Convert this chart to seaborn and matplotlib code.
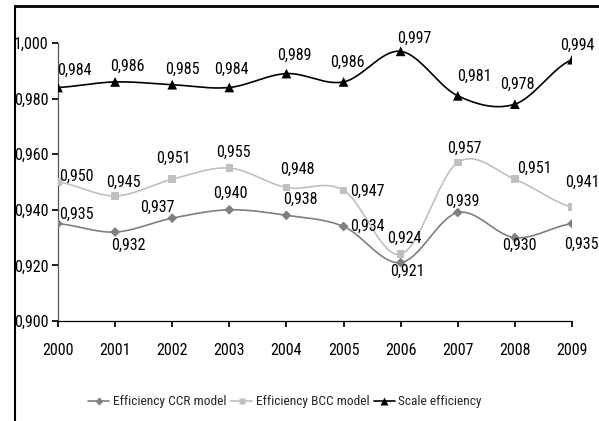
import matplotlib.pyplot as plt
import numpy as np
import pandas as pd
import seaborn as sns
from matplotlib.lines import Line2D
from matplotlib.ticker import FuncFormatter

years = [2000, 2001, 2002, 2003, 2004, 2005, 2006, 2007, 2008, 2009]
ccr = [0.935, 0.932, 0.937, 0.940, 0.938, 0.934, 0.921, 0.939, 0.930, 0.935]
bcc = [0.950, 0.945, 0.951, 0.955, 0.948, 0.947, 0.924, 0.957, 0.951, 0.941]
scale = [0.984, 0.986, 0.985, 0.984, 0.989, 0.986, 0.997, 0.981, 0.978, 0.994]
series_names = ["Efficiency CCR model", "Efficiency BCC model", "Scale efficiency"]

# label offsets in points (dx, dy) per series
ccr_offsets = [(13, 6.5), (9.5, -9.5), (-10.5, 8), (1, 12), (10, 11.5), (17, 0),
               (5, -6), (3, 8), (3, -5.5), (6.5, -14.5)]
bcc_offsets = [(13, 4), (6, 10), (0.5, 15), (3, 11.5), (8, 13), (17, -1),
               (3, 11.5), (5, 10), (14, 7.5), (7.5, 18)]
scale_offsets = [(11.5, 12), (9, 11.5), (7.5, 11), (1.5, 13), (5.5, 13), (3, 14),
                 (9.5, 9.5), (12, 14), (1.5, 14), (4, 10)]

colors = ["#7f7f7f", "#c0c0c0", "#000000"]
markers = ["D", "s", "^"]
marker_sizes = [5, 5.5, 7]


def smooth_curve(x, y, steps=30):
    """Catmull-Rom style smoothing similar to spreadsheet smoothed lines."""
    x = np.asarray(x, dtype=float)
    y = np.asarray(y, dtype=float)
    px = np.concatenate([[2 * x[0] - x[1]], x, [2 * x[-1] - x[-2]]])
    py = np.concatenate([[y[0]], y, [y[-1]]])
    out_x, out_y = [], []
    t = np.linspace(0, 1, steps)
    for i in range(1, len(px) - 2):
        p0, p1, p2, p3 = py[i - 1], py[i], py[i + 1], py[i + 2]
        c1 = p1 + (p2 - p0) / 6
        c2 = p2 - (p3 - p1) / 6
        by = (1 - t) ** 3 * p1 + 3 * (1 - t) ** 2 * t * c1 + 3 * (1 - t) * t ** 2 * c2 + t ** 3 * p2
        bx = px[i] + t * (px[i + 1] - px[i])
        out_x.extend(bx)
        out_y.extend(by)
    return out_x, out_y


sns.set_theme(style="ticks", rc={
    "axes.spines.top": False,
    "axes.spines.right": False,
    "xtick.direction": "out",
    "ytick.direction": "out",
    "xtick.major.size": 4,
    "ytick.major.size": 4,
    "axes.linewidth": 0.9,
})
plt.rcParams["font.family"] = ["Roboto Condensed", "Liberation Sans", "DejaVu Sans"]

fig = plt.figure(figsize=(5.99, 4.21), dpi=100)
ax = fig.add_axes([58 / 599, 1 - 321 / 421, (572 - 58) / 599, (321 - 43) / 421])

raw_rows = []
smooth_rows = []
for name, values in zip(series_names, [ccr, bcc, scale]):
    for yr, v in zip(years, values):
        raw_rows.append({"year": yr, "value": v, "series": name})
    sx, sy = smooth_curve(years, values)
    for a, b in zip(sx, sy):
        smooth_rows.append({"year": a, "value": b, "series": name})
raw = pd.DataFrame(raw_rows)
smooth = pd.DataFrame(smooth_rows)

palette = dict(zip(series_names, colors))
sns.lineplot(data=smooth, x="year", y="value", hue="series", palette=palette,
             sort=False, estimator=None, linewidth=1.2, legend=False, ax=ax)
for name, marker, ms in zip(series_names, markers, marker_sizes):
    part = raw[raw["series"] == name]
    sns.scatterplot(data=part, x="year", y="value", color=palette[name],
                    marker=marker, s=ms ** 2, edgecolor="none", legend=False,
                    ax=ax, zorder=3)

for values, offsets in zip([ccr, bcc, scale], [ccr_offsets, bcc_offsets, scale_offsets]):
    for yr, v, (dx, dy) in zip(years, values, offsets):
        ax.annotate(f"{v:.3f}".replace(".", ","), (yr, v), xytext=(dx, dy),
                    textcoords="offset points", ha="center", va="center",
                    fontsize=11.5, color="black", annotation_clip=False)

ax.set_xlim(2000, 2009)
ax.set_ylim(0.9, 1.0)
ax.set_xticks(years)
ax.set_yticks(np.arange(0.9, 1.0001, 0.02))
ax.yaxis.set_major_formatter(FuncFormatter(lambda v, _: f"{v:.3f}".replace(".", ",")))
ax.tick_params(labelsize=11.5, colors="black", pad=3)
ax.tick_params(axis="x", pad=12)
ax.set_xlabel("")
ax.set_ylabel("")
ax.spines["left"].set_color("#555555")
ax.spines["bottom"].set_color("black")

handles = [
    Line2D([], [], color=c, marker=m, markersize=ms * 0.8, markeredgecolor="none", linewidth=1.2)
    for c, m, ms in zip(colors, markers, marker_sizes)
]
fig.legend(handles, series_names, loc="center", bbox_to_anchor=(285 / 599, 1 - 402 / 421),
           ncol=3, frameon=False, fontsize=9.6, handlelength=1.6, handletextpad=0.25,
           columnspacing=0.35)

# outer frame (top and left edges visible in the cropped original)
fig.add_artist(Line2D([15 / 599, 1.0], [1 - 6 / 421, 1 - 6 / 421], transform=fig.transFigure,
                      color="black", linewidth=2))
fig.add_artist(Line2D([15 / 599, 15 / 599], [0, 1 - 6 / 421], transform=fig.transFigure,
                      color="black", linewidth=1.5))

fig.savefig("out.png", dpi=100)
